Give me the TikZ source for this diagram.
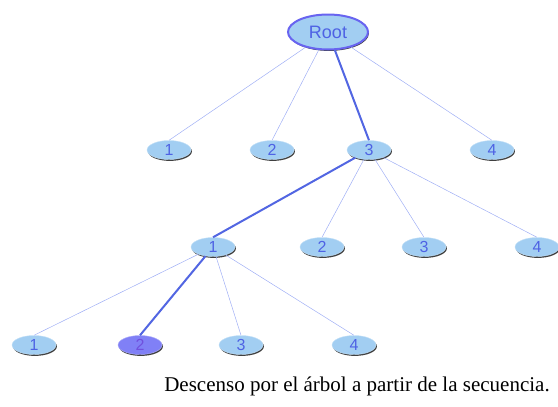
\documentclass[tikz,border=0pt]{standalone}
\usepackage{fontspec}
\setmainfont{Liberation Serif}
\setsansfont{Liberation Sans}
\usetikzlibrary{shapes.geometric}

\definecolor{nodefill}{RGB}{162,206,242}
\definecolor{nodetext}{RGB}{78,98,228}
\definecolor{thinedge}{RGB}{160,175,245}
\definecolor{pathedge}{RGB}{82,102,226}
\definecolor{rootrim}{RGB}{104,100,240}
\definecolor{hitfill}{RGB}{128,128,246}
\definecolor{hittext}{RGB}{112,80,222}

\tikzset{
  knot/.style={ellipse,fill=nodefill,draw=nodefill!60!white,line width=0.4pt,
    minimum width=44pt,minimum height=19pt,inner sep=0pt,
    font=\sffamily\fontsize{16}{16}\selectfont,text=nodetext,
    preaction={fill=black!75,transform canvas={xshift=0.9pt,yshift=-1.4pt}}},
  hit/.style={knot,fill=hitfill,draw=hitfill!60!white,text=hittext},
  rootknot/.style={knot,minimum width=80pt,minimum height=35pt,draw=rootrim,
    line width=2pt,font=\sffamily\fontsize{18}{18}\selectfont},
  thin/.style={draw=thinedge,line width=0.5pt},
  walk/.style={draw=pathedge,line width=2pt}
}

\begin{document}
\begin{tikzpicture}[x=1pt,y=-1pt]
  \useasboundingbox (0,0) rectangle (558,407);

  % level 0 and 1
  \node[rootknot] (root) at (328,32) {Root};
  \node[knot] (a1) at (169,150) {1};
  \node[knot] (a2) at (272,150) {2};
  \node[knot] (a3) at (369,150) {3};
  \node[knot] (a4) at (492,150) {4};

  % level 2
  \node[knot] (b1) at (213,247) {1};
  \node[knot] (b2) at (322,247) {2};
  \node[knot] (b3) at (424,247) {3};
  \node[knot] (b4) at (537,247) {4};

  % level 3
  \node[knot] (c1) at (34,345) {1};
  \node[hit]  (c2) at (140,345) {2};
  \node[knot] (c3) at (241,345) {3};
  \node[knot] (c4) at (354,345) {4};

  % connectors
  \draw[thin] (root) -- (a1.north);
  \draw[thin] (root) -- (a2.north);
  \draw[walk] (root) -- (a3.north);
  \draw[thin] (root) -- (a4.north);
  \draw[walk] (a3) -- (b1.north);
  \draw[thin] (a3) -- (b2.north);
  \draw[thin] (a3) -- (b3.north);
  \draw[thin] (a3) -- (b4.north);
  \draw[thin] (b1) -- (c1.north);
  \draw[walk] (b1) -- (c2.north);
  \draw[thin] (b1) -- (c3.north);
  \draw[thin] (b1) -- (c4.north);

  \node[font=\fontsize{21}{21}\selectfont] (caption) at (357,386)
    {Descenso por el árbol a partir de la secuencia.};
\end{tikzpicture}
\end{document}
